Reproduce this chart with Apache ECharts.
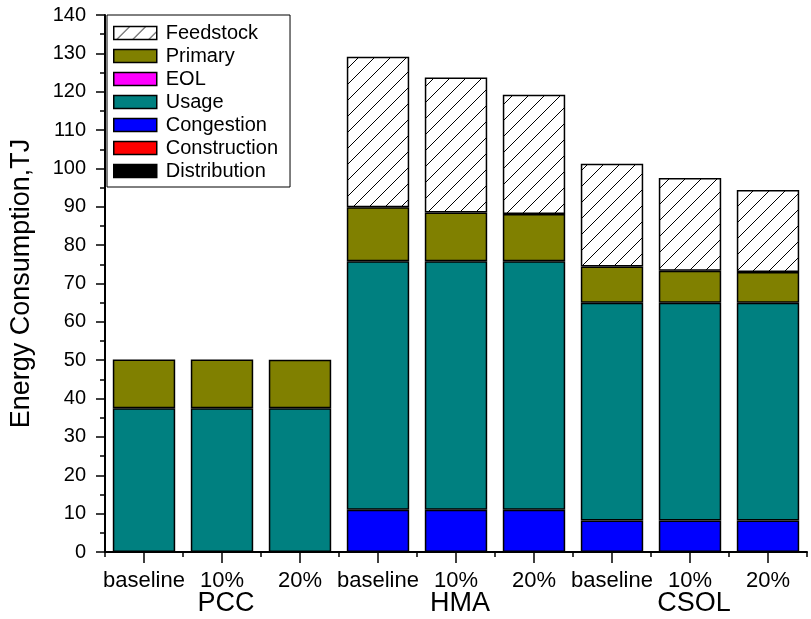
<!DOCTYPE html>
<html>
<head>
<meta charset="utf-8">
<script src="https://cdn.jsdelivr.net/npm/echarts@6/dist/echarts.min.js"></script>
<style>
html,body{margin:0;padding:0;background:#fff;}
#c{width:811px;height:619px;}
</style>
</head>
<body>
<div id="c"></div>
<script>
// ---- data ----
const groups = ['PCC', 'HMA', 'CSOL'];
const scenarioNames = ['baseline', '10%', '20%'];
const yTicks = [0, 10, 20, 30, 40, 50, 60, 70, 80, 90, 100, 110, 120, 130, 140];

const distribution = [0, 0, 0, 0, 0, 0, 0, 0, 0];
const construction = [0, 0, 0, 0, 0, 0, 0, 0, 0];
const congestion   = [0, 0, 0, 11.0, 11.0, 11.0, 8.2, 8.2, 8.2];
const usage        = [37.5, 37.5, 37.5, 64.8, 64.8, 64.8, 56.8, 56.8, 56.8];
const eol          = [0, 0, 0, 0, 0, 0, 0, 0, 0];
const primary      = [12.7, 12.7, 12.6, 14.1, 12.7, 12.3, 9.4, 8.3, 8.0];
const feedstock    = [0, 0, 0, 39.2, 35.2, 31.1, 26.8, 24.2, 21.4];

// ---- build categories ----
const categories = [];
const groupLabels = [];
groups.forEach(g => scenarioNames.forEach((s, i) => {
  categories.push(s);
  groupLabels.push(i === 1 ? g : '');
}));

// hatch pattern for feedstock
function hatch() {
  const c = document.createElement('canvas');
  c.width = 16; c.height = 16;
  const ctx = c.getContext('2d');
  ctx.fillStyle = '#fff';
  ctx.fillRect(0, 0, 16, 16);
  ctx.strokeStyle = '#000';
  ctx.lineWidth = 1;
  ctx.beginPath();
  ctx.moveTo(-1, 17); ctx.lineTo(17, -1);
  ctx.moveTo(-1, 1); ctx.lineTo(1, -1);
  ctx.moveTo(15, 17); ctx.lineTo(17, 15);
  ctx.stroke();
  return c;
}

const FONT = 'Liberation Sans, Arial, sans-serif';
const seriesDefs = [
  ['Distribution', distribution, '#000000'],
  ['Construction', construction, '#FF0000'],
  ['Congestion', congestion, '#0000FF'],
  ['Usage', usage, '#008080'],
  ['EOL', eol, '#FF00FF'],
  ['Primary', primary, '#808000'],
  ['Feedstock', feedstock, {image: hatch(), repeat: 'repeat'}]
];

const chart = echarts.init(document.getElementById('c'), null, {renderer: 'canvas'});
chart.setOption({
  backgroundColor: '#fff',
  animation: false,
  grid: {left: 104, right: 4, top: 15, bottom: 67, containLabel: false},
  legend: {
    orient: 'vertical',
    left: 107, top: 15,
    data: ['Feedstock', 'Primary', 'EOL', 'Usage', 'Congestion', 'Construction', 'Distribution'],
    icon: 'rect',
    itemWidth: 43, itemHeight: 13, itemGap: 3,
    padding: [8, 12, 6, 6],
    borderColor: '#000', borderWidth: 1,
    backgroundColor: '#fff',
    itemStyle: {borderColor: '#000', borderWidth: 1.5},
    textStyle: {fontFamily: FONT, fontSize: 20, color: '#000', lineHeight: 20, padding: [0, 0, 0, 4]},
    selectedMode: false
  },
  xAxis: [
    {
      type: 'category', data: categories, position: 'bottom',
      axisLine: {lineStyle: {color: '#000', width: 2}},
      axisTick: {show: true, length: 5, lineStyle: {color: '#000', width: 1.5}},
      axisLabel: {interval: 0, fontFamily: FONT, fontSize: 22, color: '#000', margin: 18}
    },
    {
      type: 'category', data: categories, position: 'bottom',
      axisLine: {show: false},
      axisTick: {show: true, alignWithLabel: true, length: 11, lineStyle: {color: '#000', width: 1.5}},
      axisLabel: {show: false}
    },
    {
      type: 'category', data: groupLabels, position: 'bottom',
      axisLine: {show: false}, axisTick: {show: false},
      axisLabel: {interval: 0, fontFamily: FONT, fontSize: 27, color: '#000', margin: 38, padding: [0, 0, 0, 8]}
    }
  ],
  yAxis: {
    type: 'value', min: yTicks[0], max: yTicks[yTicks.length - 1], interval: yTicks[1] - yTicks[0],
    name: 'Energy Consumption,TJ', nameLocation: 'middle', nameGap: 70,
    nameTextStyle: {fontFamily: FONT, fontSize: 27, color: '#000'},
    axisLine: {show: true, lineStyle: {color: '#000', width: 2}},
    axisTick: {show: true, length: 9, lineStyle: {color: '#000', width: 1.5}},
    minorTick: {show: true, splitNumber: 2, length: 5, lineStyle: {color: '#000', width: 1.5}},
    splitLine: {show: false},
    axisLabel: {fontFamily: FONT, fontSize: 20, color: '#000', margin: 19}
  },
  series: seriesDefs.map(([name, data, color]) => ({
    name, type: 'bar', stack: 'total',
    data: data.map(v => (v === 0 ? '-' : v)),
    barWidth: '80%',
    xAxisIndex: 0,
    itemStyle: {color, borderColor: '#000', borderWidth: 1.5},
    emphasis: {disabled: true}
  }))
});
</script>
</body>
</html>
